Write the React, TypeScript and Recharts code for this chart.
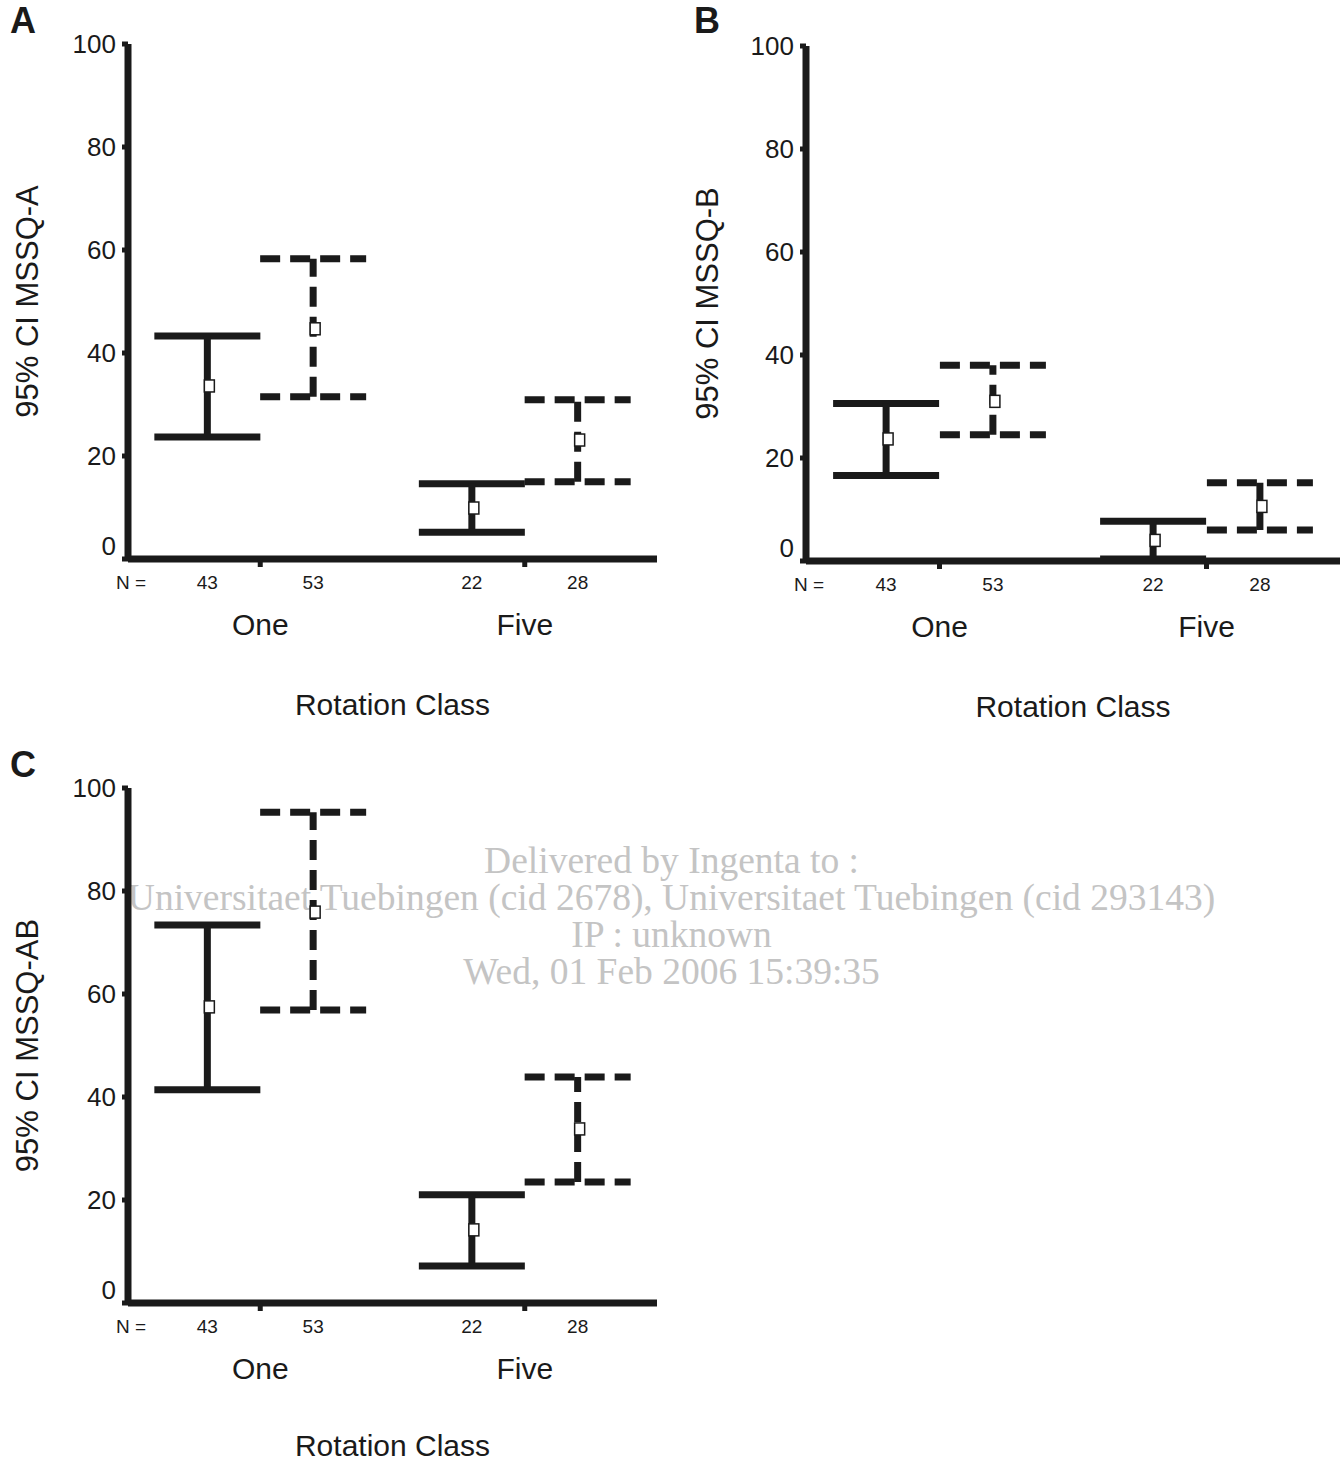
import { ScatterChart, Scatter, XAxis, YAxis, ErrorBar } from 'recharts';

const INK = '#1a1a1a';
const FONT = '"Liberation Sans", Arial, Helvetica, sans-serif';

const categories = ['One', 'Five'];
const nSolid = [43, 22];
const nDashed = [53, 28];
const yTicks = [0, 20, 40, 60, 80, 100];

// A: MSSQ-A
const aSolidMean = [33.6, 9.9];
const aSolidLow = [23.7, 5.2];
const aSolidHigh = [43.3, 14.6];
const aDashedMean = [44.7, 23.1];
const aDashedLow = [31.5, 15.0];
const aDashedHigh = [58.3, 30.9];

// B: MSSQ-B
const bSolidMean = [23.7, 4.0];
const bSolidLow = [16.6, 0.4];
const bSolidHigh = [30.6, 7.7];
const bDashedMean = [31.0, 10.6];
const bDashedLow = [24.5, 6.0];
const bDashedHigh = [38.0, 15.2];

// C: MSSQ-AB
const cSolidMean = [57.5, 14.2];
const cSolidLow = [41.4, 7.2];
const cSolidHigh = [73.4, 21.0];
const cDashedMean = [75.9, 33.8];
const cDashedLow = [56.9, 23.5];
const cDashedHigh = [95.3, 43.9];

const watermark = [
  'Delivered by Ingenta to :',
  'Universitaet Tuebingen (cid 2678), Universitaet Tuebingen (cid 293143)',
  'IP : unknown',
  'Wed, 01 Feb 2006 15:39:35',
];

const OFFSET = 0.2;

const toPoints = (mean: number[], low: number[], high: number[], off: number) =>
  categories.map((_, i) => ({
    x: i + 0.5 + off,
    y: mean[i],
    err: [mean[i] - low[i], high[i] - mean[i]],
  }));

const xTicks = [0, ...categories.flatMap((_, i) => [i + 0.5 - OFFSET, i + 0.5, i + 0.5 + OFFSET])];

const near = (a: number, b: number) => Math.abs(a - b) < 1e-6;

const XTick = (props: any) => {
  const { x, y, payload } = props;
  const v = payload.value as number;
  if (near(v, 0)) {
    return (
      <text x={x + 3} y={y + 23} textAnchor="middle" dominantBaseline="central" fontSize={19} fill={INK} fontFamily={FONT}>
        N =
      </text>
    );
  }
  const i = Math.floor(v);
  const frac = v - i;
  if (near(frac, 0.5)) {
    return (
      <g>
        <line x1={x} x2={x} y1={y} y2={y + 8} stroke={INK} strokeWidth={5} />
        <text x={x} y={y + 65} textAnchor="middle" dominantBaseline="central" fontSize={30} fill={INK} fontFamily={FONT}>
          {categories[i]}
        </text>
      </g>
    );
  }
  const n = frac < 0.5 ? nSolid[i] : nDashed[i];
  return (
    <text x={x} y={y + 23} textAnchor="middle" dominantBaseline="central" fontSize={19} fill={INK} fontFamily={FONT}>
      {n}
    </text>
  );
};

const YTick = (props: any) => {
  const { x, y, payload } = props;
  const v = payload.value as number;
  return (
    <text x={x} y={v === 0 ? y - 13 : y} textAnchor="end" dominantBaseline="central" fontSize={26} fill={INK} fontFamily={FONT}>
      {v}
    </text>
  );
};

const MeanBox = (props: any) => {
  const { cx, cy } = props;
  return <rect x={cx - 3} y={cy - 6} width={10} height={12} fill="#fff" stroke={INK} strokeWidth={1.5} />;
};

interface PanelProps {
  left: number;
  top: number;
  width: number;
  height: number;
  yAxisWidth: number;
  marginTop: number;
  marginRight: number;
  letter: string;
  letterLeft: number;
  titleOffset: number;
  yTitle: string;
  solid: [number[], number[], number[]];
  dashed: [number[], number[], number[]];
}

function Panel({
  left,
  top,
  width,
  height,
  yAxisWidth,
  marginTop,
  marginRight,
  letter,
  letterLeft,
  titleOffset,
  yTitle,
  solid,
  dashed,
}: PanelProps) {
  const solidData = toPoints(solid[0], solid[1], solid[2], -OFFSET);
  const dashedData = toPoints(dashed[0], dashed[1], dashed[2], OFFSET);
  return (
    <div style={{ position: 'absolute', left, top, width, height }}>
      <div
        style={{
          position: 'absolute',
          left: letterLeft,
          top: 3,
          fontFamily: FONT,
          fontWeight: 'bold',
          fontSize: 36,
          color: INK,
          lineHeight: '36px',
        }}
      >
        {letter}
      </div>
      <ScatterChart width={width} height={height} margin={{ top: marginTop, right: marginRight, bottom: 0, left: 0 }}>
        <XAxis
          type="number"
          dataKey="x"
          domain={[0, categories.length]}
          ticks={xTicks}
          interval={0}
          height={height - marginTop - 100 * 5.15}
          axisLine={{ stroke: INK, strokeWidth: 7 }}
          tickLine={false}
          tickSize={0}
          tickMargin={0}
          tick={<XTick />}
          label={{
            content: (p: any) => {
              const vb = p.viewBox;
              return (
                <text
                  x={vb.x + vb.width / 2}
                  y={vb.y + titleOffset}
                  textAnchor="middle"
                  dominantBaseline="central"
                  fontSize={30}
                  fill={INK}
                  fontFamily={FONT}
                >
                  Rotation Class
                </text>
              );
            },
          }}
        />
        <YAxis
          type="number"
          dataKey="y"
          domain={[0, 100]}
          ticks={yTicks}
          width={yAxisWidth}
          axisLine={{ stroke: INK, strokeWidth: 7 }}
          tickLine={{ stroke: INK, strokeWidth: 5 }}
          tickSize={6}
          tickMargin={6}
          tick={<YTick />}
          label={{
            content: (p: any) => {
              const vb = p.viewBox;
              const cx = vb.x + 27;
              const cy = vb.y + vb.height / 2;
              return (
                <text
                  x={cx}
                  y={cy}
                  transform={`rotate(-90 ${cx} ${cy})`}
                  textAnchor="middle"
                  dominantBaseline="central"
                  fontSize={31}
                  fill={INK}
                  fontFamily={FONT}
                >
                  {yTitle}
                </text>
              );
            },
          }}
        />
        <Scatter data={solidData} shape={<MeanBox />} isAnimationActive={false}>
          <ErrorBar dataKey="err" direction="y" width={53} stroke={INK} strokeWidth={7} isAnimationActive={false} />
        </Scatter>
        <Scatter data={dashedData} shape={<MeanBox />} isAnimationActive={false}>
          <ErrorBar
            dataKey="err"
            direction="y"
            width={53}
            stroke={INK}
            strokeWidth={7}
            strokeDasharray="20 10"
            isAnimationActive={false}
          />
        </Scatter>
      </ScatterChart>
    </div>
  );
}

export default function App() {
  return (
    <div style={{ position: 'absolute', left: 0, top: 0, width: 1343, height: 1463, background: '#fff', overflow: 'hidden' }}>
      <div
        style={{
          position: 'absolute',
          left: 0,
          top: 842,
          width: 1343,
          textAlign: 'center',
          fontFamily: '"Liberation Serif", "Times New Roman", serif',
          fontSize: 37.5,
          lineHeight: '37px',
          color: '#c4c4c4',
          whiteSpace: 'nowrap',
        }}
      >
        {watermark.map((line) => (
          <div key={line}>{line}</div>
        ))}
      </div>
      <Panel
        left={0}
        top={0}
        width={670}
        height={720}
        yAxisWidth={128}
        marginTop={44}
        marginRight={13}
        letter="A"
        letterLeft={10}
        titleOffset={145}
        yTitle="95% CI MSSQ-A"
        solid={[aSolidMean, aSolidLow, aSolidHigh]}
        dashed={[aDashedMean, aDashedLow, aDashedHigh]}
      />
      <Panel
        left={680}
        top={0}
        width={663}
        height={730}
        yAxisWidth={126}
        marginTop={46}
        marginRight={3}
        letter="B"
        letterLeft={14}
        titleOffset={145}
        yTitle="95% CI MSSQ-B"
        solid={[bSolidMean, bSolidLow, bSolidHigh]}
        dashed={[bDashedMean, bDashedLow, bDashedHigh]}
      />
      <Panel
        left={0}
        top={744}
        width={670}
        height={719}
        yAxisWidth={128}
        marginTop={44}
        marginRight={13}
        letter="C"
        letterLeft={10}
        titleOffset={142}
        yTitle="95% CI MSSQ-AB"
        solid={[cSolidMean, cSolidLow, cSolidHigh]}
        dashed={[cDashedMean, cDashedLow, cDashedHigh]}
      />
    </div>
  );
}
